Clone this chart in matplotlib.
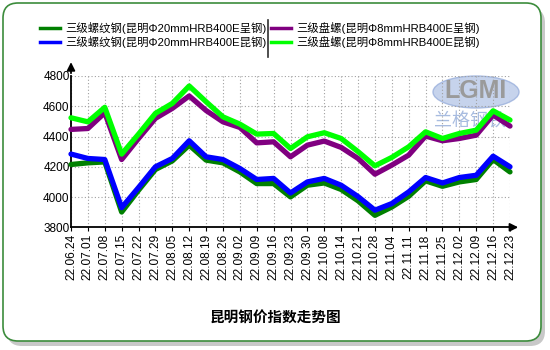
import matplotlib
matplotlib.use('Agg')
import matplotlib.pyplot as plt
from matplotlib.lines import Line2D
from matplotlib.patches import FancyBboxPatch, Ellipse

plt.rcParams['font.family'] = ['Liberation Sans', 'Noto Sans CJK SC']

# 日期
dates = ['22.06.24', '22.07.01', '22.07.08', '22.07.15', '22.07.22', '22.07.29',
         '22.08.05', '22.08.12', '22.08.19', '22.08.26', '22.09.02', '22.09.09',
         '22.09.16', '22.09.23', '22.09.30', '22.10.08', '22.10.14', '22.10.21',
         '22.10.28', '22.11.04', '22.11.11', '22.11.18', '22.11.25', '22.12.02',
         '22.12.09', '22.12.16', '22.12.23']

# 三级螺纹钢 呈钢 / 昆钢
rebar_cheng = [4215, 4226, 4232, 3901, 4045, 4182, 4239, 4343, 4244, 4226, 4166, 4089,
               4089, 4001, 4078, 4093, 4050, 3975, 3879, 3934, 4005, 4107, 4071, 4100,
               4116, 4248, 4166]
rebar_kun = [4284, 4255, 4248, 3930, 4063, 4200, 4255, 4372, 4266, 4248, 4189, 4116,
             4123, 4027, 4100, 4123, 4078, 4003, 3913, 3957, 4034, 4129, 4093, 4129,
             4144, 4270, 4200]
# 三级盘螺 呈钢 / 昆钢
coil_cheng = [4447, 4453, 4557, 4248, 4387, 4520, 4586, 4668, 4572, 4497, 4460, 4358,
              4365, 4266, 4343, 4370, 4328, 4255, 4151, 4211, 4277, 4403, 4372, 4387,
              4409, 4542, 4469]
coil_kun = [4524, 4497, 4593, 4284, 4416, 4553, 4619, 4734, 4630, 4530, 4482, 4416,
            4420, 4321, 4398, 4425, 4387, 4300, 4206, 4262, 4332, 4431, 4387, 4420,
            4442, 4570, 4509]

names = ['三级螺纹钢(昆明Φ20mmHRB400E呈钢)', '三级螺纹钢(昆明Φ20mmHRB400E昆钢)',
         '三级盘螺(昆明Φ8mmHRB400E呈钢)', '三级盘螺(昆明Φ8mmHRB400E昆钢)']
colors = ['#008000', '#0000ff', '#800080', '#00ff00']
series = [rebar_cheng, rebar_kun, coil_cheng, coil_kun]

fig = plt.figure(figsize=(5.5, 3.5), dpi=100)
fig.patch.set_facecolor('white')

# 圆角边框和阴影
shadow = FancyBboxPatch((7, 4), 538, 338, boxstyle='round,pad=0,rounding_size=15',
                        transform=None, facecolor='#c8c8c8', edgecolor='none', zorder=0)
frame = FancyBboxPatch((3, 9), 538, 338, boxstyle='round,pad=0,rounding_size=15',
                       transform=None, facecolor='white', edgecolor='#3c8c3c',
                       linewidth=1.2, zorder=1)
fig.patches.extend([shadow, frame])

ax = fig.add_axes([71 / 550, 122.7 / 350, 439 / 550, 151.3 / 350])
ax.set_facecolor('none')
ax.set_zorder(2)

x = list(range(len(dates)))
for vals, c in zip(series, colors):
    ax.plot(x, vals, color=c, lw=3.8, solid_joinstyle='round', solid_capstyle='round',
            clip_on=False, zorder=5)

ax.set_xlim(0, len(dates) - 1)
ax.set_ylim(3800, 4800)
ax.set_yticks([3800, 4000, 4200, 4400, 4600, 4800])
ax.set_xticks(x)
ax.set_xticklabels(dates, rotation=90, fontsize=8.6, va='top')
ax.tick_params(axis='y', labelsize=8.5, length=0, pad=1)
ax.tick_params(axis='x', length=3, pad=2)
ax.grid(True, color='#a0a0a0', linestyle=(0, (1, 2)), linewidth=0.8)
ax.set_axisbelow(True)
for s in ['top', 'right']:
    ax.spines[s].set_visible(False)
for s in ['left', 'bottom']:
    ax.spines[s].set_linewidth(1.3)

# 坐标轴箭头
ax.annotate('', xy=(0, 1.11), xytext=(0, 1.0), xycoords='axes fraction',
            arrowprops=dict(arrowstyle='-|>', color='black', lw=1.3, mutation_scale=12),
            annotation_clip=False)
ax.annotate('', xy=(1.025, 0), xytext=(1.0, 0), xycoords='axes fraction',
            arrowprops=dict(arrowstyle='-|>', color='black', lw=1.3, mutation_scale=12),
            annotation_clip=False)

# 水印
fig.patches.append(Ellipse((476 / 550, 1 - 92 / 350), 86 / 550, 32 / 350,
                           transform=fig.transFigure, facecolor='#b8c8e8',
                           edgecolor='#9ab0dc', lw=1, alpha=0.8, zorder=1.5))
fig.text(476 / 550, 1 - 91 / 350, 'LGMI', color='#9a9a9a', fontsize=18,
         fontweight='bold', ha='center', va='center', zorder=1.6)
fig.text(470 / 550, 1 - 122 / 350, '兰格钢铁', color='#a8bce0', fontsize=13,
         ha='center', va='center', zorder=1.6)

# 图例
leg_pos = [(40, 28), (40, 42), (271, 28), (271, 42)]
for (px, py), c, n in zip(leg_pos, colors, names):
    fig.add_artist(Line2D([px / 550, (px + 20) / 550], [1 - py / 350] * 2,
                          color=c, lw=2.5, transform=fig.transFigure))
    fig.text((px + 25) / 550, 1 - py / 350, n, fontsize=8.2, va='center', ha='left')
fig.add_artist(Line2D([268 / 550] * 2, [1 - 20 / 350, 1 - 57 / 350],
                      color='#303030', lw=1.2, transform=fig.transFigure))

fig.text(275 / 550, 1 - 318 / 350, '昆明钢价指数走势图', fontsize=10.5,
         fontweight='bold', ha='center', va='center')

fig.savefig('out.png', dpi=100)
